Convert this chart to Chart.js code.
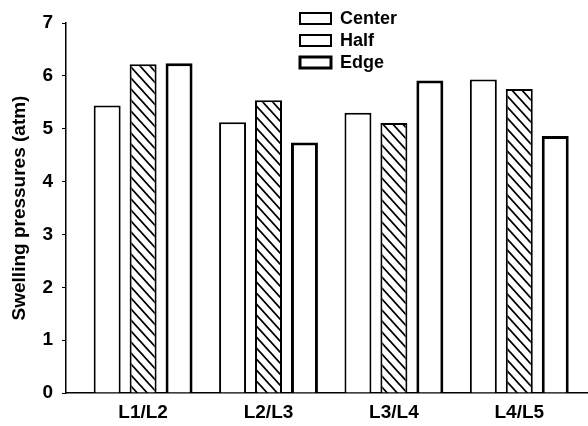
<!DOCTYPE html>
<html>
<head>
<meta charset="utf-8">
<script src="https://cdn.jsdelivr.net/npm/chart.js@4/dist/chart.umd.min.js"></script>
<style>
  html, body { margin: 0; padding: 0; background: #fff; }
  #wrap { width: 588px; height: 426px; position: relative; }
</style>
</head>
<body>
<div id="wrap"><canvas id="c"></canvas></div>
<script>
const categories = ['L1/L2', 'L2/L3', 'L3/L4', 'L4/L5'];
const seriesNames = ['Center', 'Half', 'Edge'];
const centerValues = [5.44, 5.12, 5.30, 5.93];
const halfValues = [6.22, 5.54, 5.11, 5.75];
const edgeValues = [6.24, 4.74, 5.91, 4.86];
const yTicks = [0, 1, 2, 3, 4, 5, 6, 7];

const FONT = '"Liberation Sans", Arial, Helvetica, sans-serif';

function hatchPattern() {
  const w = 10, h = 11;
  const cv = document.createElement('canvas');
  cv.width = w; cv.height = h;
  const g = cv.getContext('2d');
  g.fillStyle = '#fff';
  g.fillRect(0, 0, w, h);
  g.strokeStyle = '#000';
  g.lineWidth = 1.8;
  g.beginPath();
  for (let k = -1; k <= 1; k++) {
    g.moveTo(k * w - w * 0.2, -h * 0.2);
    g.lineTo(k * w + w * 1.2, h * 1.2);
  }
  g.stroke();
  return g.createPattern(cv, 'repeat');
}

const toPoints = arr => arr.map((v, i) => ({ x: i, y: v }));

const legendPlugin = {
  id: 'stackLegend',
  afterDraw(chart) {
    const ctx = chart.ctx;
    ctx.save();
    chart.data.datasets.forEach((ds, i) => {
      const bx = 300, by = 13 + 22 * i, bw = 31, bh = 11;
      ctx.fillStyle = '#fff';
      ctx.fillRect(bx, by, bw, bh);
      ctx.strokeStyle = '#000';
      ctx.lineWidth = ds.legendBorder;
      ctx.strokeRect(bx, by, bw, bh);
      ctx.fillStyle = '#000';
      ctx.font = 'bold 18px ' + FONT;
      ctx.textBaseline = 'middle';
      ctx.textAlign = 'left';
      ctx.fillText(ds.label, 340, by + bh / 2 + 1);
    });
    ctx.restore();
  }
};

new Chart(document.getElementById('c'), {
  type: 'bar',
  data: {
    datasets: [
      { label: seriesNames[0], data: toPoints(centerValues), backgroundColor: '#fff', borderColor: '#000', borderWidth: 2, legendBorder: 2 },
      { label: seriesNames[1], data: toPoints(halfValues), backgroundColor: hatchPattern(), borderColor: '#000', borderWidth: 2, legendBorder: 2 },
      { label: seriesNames[2], data: toPoints(edgeValues), backgroundColor: '#fff', borderColor: '#000', borderWidth: 3, legendBorder: 3 }
    ]
  },
  options: {
    responsive: true,
    maintainAspectRatio: false,
    animation: false,
    devicePixelRatio: 1,
    categoryPercentage: 0.86,
    barPercentage: 0.75,
    layout: { padding: { top: 23, right: 0, left: 0, bottom: 0 } },
    plugins: { legend: { display: false }, tooltip: { enabled: false } },
    scales: {
      x: {
        type: 'linear',
        min: -0.615,
        max: 3.548,
        offset: false,
        grid: { display: true, drawOnChartArea: false, drawTicks: false },
        border: { display: true, color: '#000', width: 1.5 },
        afterBuildTicks(scale) {
          scale.ticks = categories.map((c, i) => ({ value: i }));
        },
        afterFit(scale) { scale.height = 33; },
        ticks: {
          autoSkip: false,
          maxRotation: 0,
          padding: 8,
          color: '#000',
          font: { family: FONT, size: 19, weight: 'bold' },
          callback: v => categories[v] !== undefined ? categories[v] : ''
        }
      },
      y: {
        min: 0,
        max: 7,
        afterBuildTicks(scale) {
          scale.ticks = yTicks.map(v => ({ value: v }));
        },
        afterFit(scale) { scale.width = 66; },
        grid: { display: true, drawOnChartArea: false, drawTicks: true, tickLength: 4, color: '#000', tickWidth: 1 },
        border: { display: true, color: '#000', width: 1.5 },
        ticks: {
          padding: 9,
          color: '#000',
          font: { family: FONT, size: 19, weight: 'bold' }
        },
        title: {
          display: true,
          text: 'Swelling pressures (atm)',
          color: '#000',
          padding: { top: 8, bottom: 0 },
          font: { family: FONT, size: 19, weight: 'bold' }
        }
      }
    }
  },
  plugins: [legendPlugin]
});
</script>
</body>
</html>
